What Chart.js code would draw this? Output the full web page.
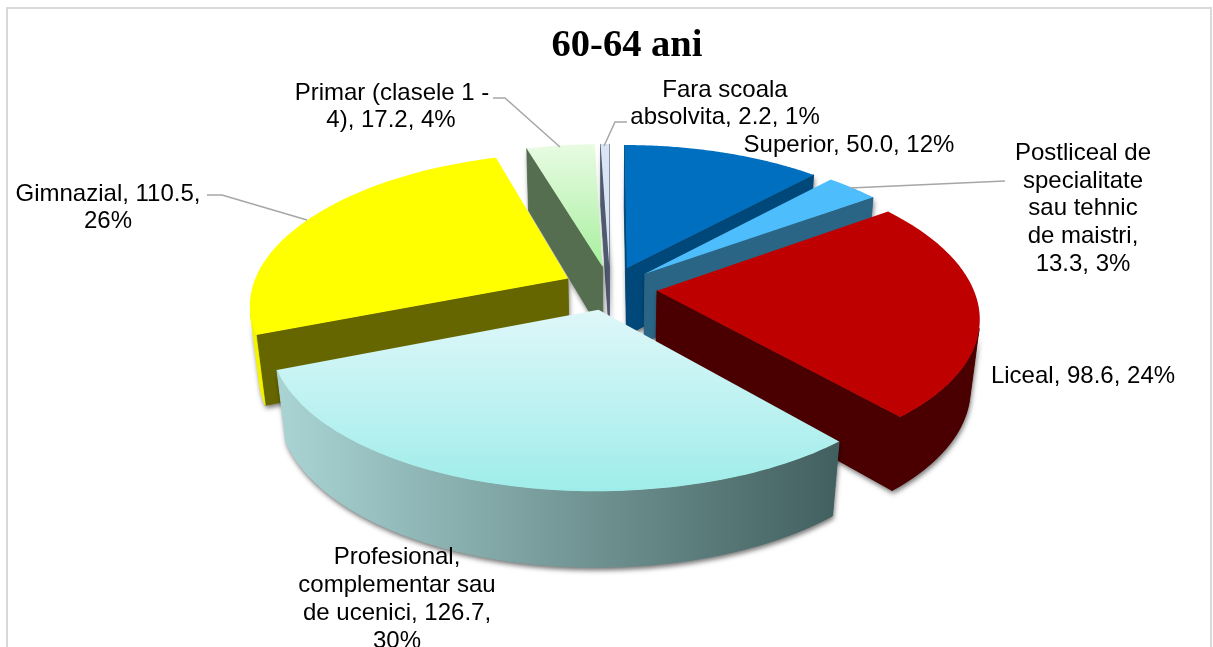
<!DOCTYPE html>
<html><head><meta charset="utf-8">
<style>html,body{margin:0;padding:0;background:#fff;overflow:hidden}#w{width:1213px;height:647px;position:relative}</style>
<script src="https://cdn.jsdelivr.net/npm/chart.js@4/dist/chart.umd.min.js"></script>
</head><body><div id="w"><canvas id="c" width="1213" height="647"></canvas></div>
<script>
const categories = ["Superior","Postliceal de specialitate sau tehnic de maistri","Liceal","Profesional, complementar sau de ucenici","Gimnazial","Primar (clasele 1 - 4)","Fara scoala absolvita"];
const values = [50.0,13.3,98.6,126.7,110.5,17.2,2.2];
const percents = [12,3,24,30,26,4,1];
const titleText = "60-64 ani";
const topColors = ["#006FBF","#4DBDFB","#BE0000","#B8F0F0","#FFFF00","#C8F5BE","#D9E4F5"];
const wallColors = ["#00487A","#2B6585","#4A0000","#4A6764","#666600","#556E50","#4E5A6E"];
const rimColors = ["#00487A","#2B6585","#4A0000",null,"#F4F400","#556E50","#4E5A6E"];
const labelLines = [
 ["Superior, 50.0, 12%"],
 ["Postliceal de","specialitate","sau tehnic","de maistri,","13.3, 3%"],
 ["Liceal, 98.6, 24%"],
 ["Profesional,","complementar sau","de ucenici, 126.7,","30%"],
 ["Gimnazial, 110.5,","26%"],
 ["Primar (clasele 1 -","4), 17.2, 4%"],
 ["Fara scoala","absolvita, 2.2, 1%"]
];
const labelPos = [
 [[849,145]],
 [[1083,153],[1083,181],[1083,208],[1083,236],[1083,264]],
 [[1083,376]],
 [[397,557],[397,585],[397,613],[397,641]],
 [[108,194],[108,221]],
 [[392,93],[391,120]],
 [[725,90],[725,117]]
];
const leaders = [
 [[493,98],[505,98],[560,147]],
 [[627,122],[615,122],[604,146]],
 [[850,188],[1005,181]],
 [[207,195],[222,195],[307,220]]
];
const view = {shiftX:-17, cy:288, R:316, k:147, D:70, p:0.15, px:0.165, q:0.025};

const pie3d = {
 id:'pie3d',
 beforeDatasetDraw(chart){
  const ctx=chart.ctx, meta=chart.getDatasetMeta(0), arcs=meta.data;
  const proj=(el,a,rad,z)=>{
    const m=(el.startAngle+el.endAngle)/2, o=el.options.offset/el.outerRadius;
    const X=Math.cos(a)*rad+Math.cos(m)*o, Y=Math.sin(a)*rad+Math.sin(m)*o;
    const s=1/(1-view.p*Y+view.q*z), sx=1/(1-view.px*Y+view.q*z);
    return [el.x+view.shiftX+X*view.R*sx, view.cy+(Y*view.k+z*view.D)*s];
  };
  const area=P=>{let t=0;for(let i=0;i<P.length;i++){const a=P[i],b=P[(i+1)%P.length];t+=a[0]*b[1]-b[0]*a[1];}return t;};
  const fillPoly=(P,c,seam)=>{ctx.beginPath();P.forEach((q,i)=>i?ctx.lineTo(q[0],q[1]):ctx.moveTo(q[0],q[1]));ctx.closePath();ctx.fillStyle=c;ctx.fill();if(seam){ctx.strokeStyle=c;ctx.lineWidth=0.8;ctx.stroke();}};
  const gradV=(y0,y1,c0,c1)=>{const g=ctx.createLinearGradient(0,y0,0,y1);g.addColorStop(0,c0);g.addColorStop(1,c1);return g;};
  const topFill=i=>{
    if(i===3) return gradV(310,490,"#DFF7F9","#9FEDEA");
    if(i===5) return gradV(145,265,"#E8FBE2","#A9F0A0");
    return topColors[i];
  };
  const rimFill=i=>{
    if(i===3){const g=ctx.createLinearGradient(283,0,835,0);g.addColorStop(0,"#A9D3D3");g.addColorStop(1,"#42605F");return g;}
    return rimColors[i];
  };
  const order=arcs.map((el,i)=>({el,i,y:Math.sin((el.startAngle+el.endAngle)/2)})).sort((a,b)=>a.y-b.y);
  for(const {el,i} of order){
    const a0=el.startAngle,a1=el.endAngle,N=80;
    const top=[];for(let n=0;n<=N;n++)top.push(proj(el,a0+(a1-a0)*n/N,1,0));
    const bot=[];for(let n=0;n<=N;n++)bot.push(proj(el,a0+(a1-a0)*n/N,1,1));
    const apexT=proj(el,a0,0,0),apexB=proj(el,a0,0,1);
    const faces=[];
    const w0=[apexT,top[0],bot[0],apexB];
    if(area(w0)<0)faces.push([w0,wallColors[i]]);
    const w1=[apexT,top[N],bot[N],apexB];
    if(area(w1)>0)faces.push([w1,wallColors[i]]);
    let run=null;
    const flush=()=>{if(run){faces.push([run.t.concat(run.b.reverse()),rimFill(i)]);run=null;}};
    for(let n=0;n<N;n++){
      const q=[top[n],top[n+1],bot[n+1],bot[n]];
      if(area(q)<0){ if(!run)run={t:[top[n]],b:[bot[n]]}; run.t.push(top[n+1]);run.b.push(bot[n+1]); }
      else flush();
    }
    flush();
    const topPoly=[apexT].concat(top);
    ctx.save();
    ctx.shadowColor="rgba(0,0,0,0.55)";ctx.shadowBlur=5;ctx.shadowOffsetX=1;ctx.shadowOffsetY=3;
    for(const f of faces)fillPoly(f[0],f[1]);
    ctx.restore();
    for(const f of faces)fillPoly(f[0],f[1],true);
    fillPoly(topPoly,topFill(i));
  }
  return false;
 },
 afterDraw(chart){
  const ctx=chart.ctx;
  ctx.save();
  ctx.strokeStyle="#D9D9D9";ctx.lineWidth=2;
  ctx.beginPath();ctx.moveTo(7,660);ctx.lineTo(7,8);ctx.lineTo(1211,8);ctx.lineTo(1211,660);ctx.stroke();
  ctx.strokeStyle="#A6A6A6";ctx.lineWidth=1.5;
  for(const L of leaders){ctx.beginPath();L.forEach((q,i)=>i?ctx.lineTo(q[0],q[1]):ctx.moveTo(q[0],q[1]));ctx.stroke();}
  ctx.fillStyle="#000";ctx.font='24px "Liberation Sans"';ctx.textAlign="center";ctx.textBaseline="middle";
  labelLines.forEach((lines,i)=>lines.forEach((t,j)=>ctx.fillText(t,labelPos[i][j][0],labelPos[i][j][1])));
  ctx.restore();
 }
};

new Chart(document.getElementById('c'),{
 type:'pie',
 data:{labels:categories,datasets:[{data:values,backgroundColor:topColors,borderWidth:0,offset:40}]},
 options:{
  responsive:false,animation:false,
  layout:{padding:{left:41}},
  plugins:{
   legend:{display:false},tooltip:{enabled:false},
   title:{display:true,text:titleText,color:"#000",font:{family:'"Liberation Serif"',size:38.5,weight:'bold'},padding:{top:23,bottom:2}}
  }
 },
 plugins:[pie3d]
});
</script></body></html>
